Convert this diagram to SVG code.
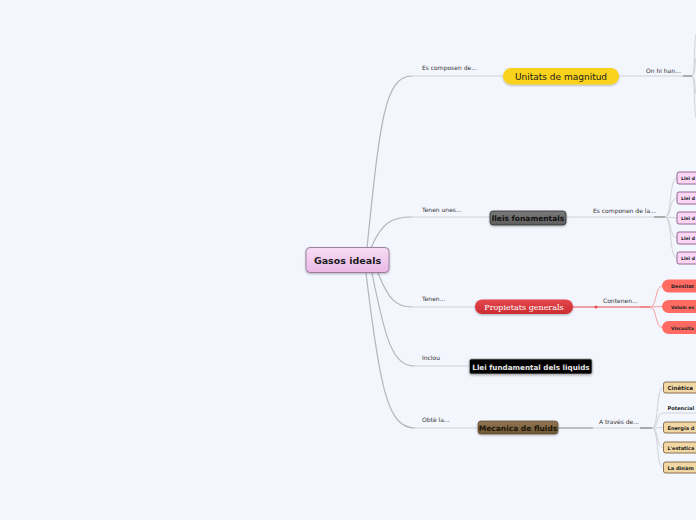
<svg xmlns="http://www.w3.org/2000/svg" width="696" height="520" viewBox="0 0 696 520">
<defs>
<linearGradient id="gPink" x1="0" y1="0" x2="0" y2="1"><stop offset="0" stop-color="#f8dcf4"/><stop offset="1" stop-color="#e9b9e5"/></linearGradient>
<linearGradient id="gGray" x1="0" y1="0" x2="0" y2="1"><stop offset="0" stop-color="#7a7a7a"/><stop offset="1" stop-color="#5e5e5e"/></linearGradient>
<linearGradient id="gRed" x1="0" y1="0" x2="0" y2="1"><stop offset="0" stop-color="#e5474b"/><stop offset="1" stop-color="#c92d33"/></linearGradient>
<linearGradient id="gBrown" x1="0" y1="0" x2="0" y2="1"><stop offset="0" stop-color="#937754"/><stop offset="1" stop-color="#6f5636"/></linearGradient>
<filter id="sh" x="-10%" y="-20%" width="120%" height="150%"><feDropShadow dx="0" dy="1" stdDeviation="0.8" flood-color="#000" flood-opacity="0.3"/></filter>
</defs>
<style>
.lab{font-family:"DejaVu Sans",Verdana,sans-serif;font-size:6px;fill:#333}
.c{fill:none;stroke:#b4b4bc;stroke-width:1.2}
.cl{fill:none;stroke:#d0d2da;stroke-width:1}
.st{fill:none;stroke:#9a9a9a;stroke-width:1.6}
.rc{fill:none;stroke:#f4a0a0;stroke-width:1}
.ch{font-family:"DejaVu Sans",Verdana,sans-serif;font-weight:bold;fill:#222}
.pk{fill:#fcd6f6;stroke:#7a4a7a;stroke-width:0.8}
.tn{fill:#f1d7a3;stroke:#6e5430;stroke-width:0.8}
.rp{fill:#ff6b62}
</style>
<rect width="696" height="520" fill="#f3f6fd"/>
<g id="connectors">
<path class="c" d="M367 248 C380 120 385 76 412 76"/>
<path class="cl" d="M412 76 L503 76"/>
<path class="c" d="M371 248 C382 222 392 217 412 217"/>
<path class="cl" d="M412 217 L490 217"/>
<path class="c" d="M378 273 C388 298 395 307 412 307"/>
<path class="cl" d="M412 307 L475 307"/>
<path class="c" d="M372 273 C385 338 392 366 415 366"/>
<path class="cl" d="M415 366 L470 366"/>
<path class="c" d="M366 273 C380 390 388 428 415 428"/>
<path class="cl" d="M415 428 L478 428"/>
<path class="cl" d="M619 76 L683 76"/>
<path class="st" d="M683 76 L692 76"/>
<path class="cl" d="M692 76 C695 76 694 40 696 34"/>
<path class="cl" d="M692 76 C695 76 695 62 696 58"/>
<path class="cl" d="M692 76 C695 76 695 90 696 94"/>
<path class="cl" d="M692 76 C695 76 694 112 696 118"/>
<path class="cl" d="M566 217 L654 217"/>
<path class="st" d="M654 217 L665 217"/>
<path class="cl" d="M665 217 C672 217 669 178 677 178"/>
<path class="cl" d="M665 217 C672 217 669 198 677 198"/>
<path class="cl" d="M665 217 L677 218"/>
<path class="cl" d="M665 217 C672 217 669 238 677 238"/>
<path class="cl" d="M665 217 C672 217 669 258 677 258"/>
<path fill="none" stroke="#e84a4e" stroke-width="1.2" d="M573 307 L640 307"/>
<circle cx="596" cy="307" r="1.5" fill="#e84a4e"/>
<path fill="none" stroke="#f07070" stroke-width="1.6" d="M640 307 L650 307"/>
<path class="rc" d="M650 307 C657 307 655 286 662 286"/>
<path class="rc" d="M650 307 L662 306.5"/>
<path class="rc" d="M650 307 C657 307 655 327.5 662 327.5"/>
<path class="cl" d="M558 428 L640 428"/>
<path fill="none" stroke="#9a9a9a" stroke-width="1.2" d="M558 428 L593 428"/>
<path class="st" d="M640 428 L652 428"/>
<path class="cl" d="M652 428 C659 428 656 387.5 663 387.5"/>
<path class="cl" d="M652 428 C659 428 656 413 663 413 L696 413"/>
<path class="cl" d="M652 428 L663 427.5"/>
<path class="cl" d="M652 428 C659 428 656 447.5 663 447.5"/>
<path class="cl" d="M652 428 C659 428 656 467.5 663 467.5"/>
<text class="lab" x="422" y="70">Es composen de...</text>
<text class="lab" x="422" y="212">Tenen unes...</text>
<text class="lab" x="422" y="301">Tenen...</text>
<text class="lab" x="422" y="360">Inclou</text>
<text class="lab" x="422" y="422">Obtè la...</text>
<text class="lab" x="646" y="73">On hi han...</text>
<text class="lab" x="593" y="213">Es componen de la...</text>
<text class="lab" x="603" y="303">Contenen...</text>
<text class="lab" x="599" y="424">A través de...</text>
</g>
<g id="n-center">
<rect x="306" y="247.5" width="83" height="25" rx="4" fill="url(#gPink)" stroke="#8d6a8d" stroke-width="0.8" filter="url(#sh)"/>
<text x="347.5" y="264" text-anchor="middle" font-family="DejaVu Sans,Verdana,sans-serif" font-size="9.5" font-weight="bold" fill="#1a1a1a">Gasos ideals</text>
</g>
<g id="n-unitats">
<rect x="503" y="68" width="116" height="16.5" rx="8.2" fill="#f9d21c" filter="url(#sh)"/>
<text x="561" y="80" text-anchor="middle" font-family="DejaVu Sans,Verdana,sans-serif" font-size="9" fill="#1a1a1a">Unitats de magnitud</text>
</g>
<g id="n-lleis">
<rect x="490" y="211" width="76" height="14" rx="3" fill="url(#gGray)" stroke="#333" stroke-width="0.8" filter="url(#sh)"/>
<text x="528" y="221" text-anchor="middle" font-family="DejaVu Sans,Verdana,sans-serif" font-size="7.5" font-weight="bold" fill="#111">lleis fonamentals</text>
</g>
<g id="n-propietats">
<rect x="475" y="299.5" width="98" height="14.5" rx="7.2" fill="url(#gRed)" filter="url(#sh)"/>
<text x="524" y="310" text-anchor="middle" font-family="DejaVu Serif,Liberation Serif,serif" font-size="8" fill="#fff">Propietats generals</text>
</g>
<g id="n-llei-fund">
<rect x="469.5" y="359" width="122.5" height="15" rx="2" fill="#000" stroke="#999" stroke-width="0.8" filter="url(#sh)"/>
<text x="531" y="369.5" text-anchor="middle" font-family="DejaVu Sans,Verdana,sans-serif" font-size="7.2" font-weight="bold" fill="#e6e6e6">Llei fundamental dels liquids</text>
</g>
<g id="n-mecanica">
<rect x="478" y="421" width="80" height="13" rx="3" fill="url(#gBrown)" stroke="#4d3a20" stroke-width="0.6" filter="url(#sh)"/>
<text x="518" y="430.5" text-anchor="middle" font-family="DejaVu Sans,Verdana,sans-serif" font-size="7.5" font-weight="bold" fill="#1e1608">Mecanica de fluids</text>
</g>
<g id="n-llei1"><rect class="pk" x="677" y="172" width="30" height="12" rx="2"/><text class="ch" x="681" y="180" style="font-size:4.6px">Llei d</text></g>
<g id="n-llei2"><rect class="pk" x="677" y="192" width="30" height="12" rx="2"/><text class="ch" x="681" y="200" style="font-size:4.6px">Llei d</text></g>
<g id="n-llei3"><rect class="pk" x="677" y="212" width="30" height="12" rx="2"/><text class="ch" x="681" y="220" style="font-size:4.6px">Llei d</text></g>
<g id="n-llei4"><rect class="pk" x="677" y="232" width="30" height="12" rx="2"/><text class="ch" x="681" y="240" style="font-size:4.6px">Llei d</text></g>
<g id="n-llei5"><rect class="pk" x="677" y="252" width="30" height="12" rx="2"/><text class="ch" x="681" y="260" style="font-size:4.6px">Llei d</text></g>
<g id="n-densitat"><rect class="rp" x="662" y="279.5" width="50" height="13" rx="6.5"/><text class="ch" x="671" y="288" style="font-size:4.8px">Densitat</text></g>
<g id="n-volum"><rect class="rp" x="662" y="300" width="50" height="13" rx="6.5"/><text class="ch" x="671" y="308.5" style="font-size:4.5px">Volum es</text></g>
<g id="n-viscositat"><rect class="rp" x="662" y="321" width="50" height="13" rx="6.5"/><text class="ch" x="671" y="329.5" style="font-size:4.5px">Viscosita</text></g>
<g id="n-cinetica"><rect class="tn" x="663.5" y="382" width="40" height="11" rx="2"/><text class="ch" x="667.5" y="389.8" style="font-size:5.6px">Cinètica</text></g>
<g id="n-potencial"><text class="ch" x="667.5" y="410" fill="#111" style="font-size:5.1px">Potencial</text></g>
<g id="n-energia"><rect class="tn" x="663.5" y="422" width="40" height="11" rx="2"/><text class="ch" x="667.5" y="429.8" style="font-size:5px">Energía d</text></g>
<g id="n-estatica"><rect class="tn" x="663.5" y="442" width="40" height="11" rx="2"/><text class="ch" x="667.5" y="449.8" style="font-size:4.9px">L'estatica</text></g>
<g id="n-dinamica"><rect class="tn" x="663.5" y="462" width="40" height="11" rx="2"/><text class="ch" x="667.5" y="469.8" style="font-size:5.1px">La dinàm</text></g>
</svg>
